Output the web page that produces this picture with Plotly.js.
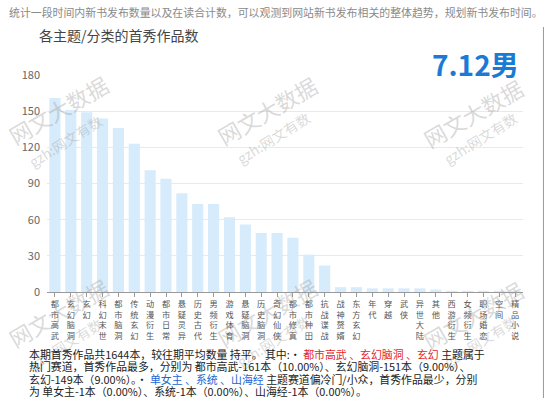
<!DOCTYPE html>
<html>
<head>
<meta charset="utf-8">
<script src="https://cdn.plot.ly/plotly-3.0.1.min.js"></script>
<style>html,body{margin:0;padding:0;background:#fff;}#chart{width:550px;height:398px;}</style>
</head>
<body>
<div id="chart"></div>
<script>
const categories = ["都市高武","玄幻脑洞","玄幻","科幻末世","都市脑洞","传统玄幻","动漫衍生","都市日常","悬疑灵异","历史古代","男频衍生","游戏体育","悬疑脑洞","历史脑洞","奇幻仙侠","都市修真","都市种田","抗战谍战","战神赘婿","东方玄幻","年代","穿越","武侠","异世大陆","其他","西游衍生","女频衍生","职场婚恋","空间","精品小说"];
const counts = [161,151,149,144,136,123,101,94,82,73,73,62,56,49,49,45,31,22,4,4,3,3,3,3,2,1,1,1,1,1];
const yTicks = [0,30,60,90,120,150,180];

const FONT = "Noto Sans CJK SC, Noto Sans, sans-serif";
// pixel helpers for paper coordinates
const L = 46.5, R = 523.5, T = 75, B = 292;
const px = x => (x - L) / (R - L);
const py = y => (B - y) / (B - T);

const tickText = categories.map(c => c.split("").join("<br>"));

const annotations = [];
// caption
annotations.push({xref:"paper", yref:"paper", x:px(7), y:py(12), xanchor:"left", yanchor:"middle",
  text:"统计一段时间内新书发布数量以及在读合计数，可以观测到网站新书发布相关的整体趋势，规划新书发布时间。",
  showarrow:false, borderpad:0, font:{family:FONT, size:10.9, color:"#8a8a8a"}});
// big label
annotations.push({xref:"paper", yref:"paper", x:px(521), y:py(64), xanchor:"right", yanchor:"middle",
  text:"<b>7.12男</b>", showarrow:false, font:{family:FONT, size:28, color:"#1a7bd6"}});
// watermarks
const wmA = [[58,109],[267,110],[473,113],[58,312],[267,312],[473,315]];
const wmB = [[65,141],[273,138],[481,138],[65,344],[273,341],[481,341]];
wmA.forEach(p => annotations.push({xref:"paper", yref:"paper", x:px(p[0]), y:py(p[1]), xanchor:"center", yanchor:"middle",
  text:"网文大数据", textangle:-30, showarrow:false, font:{family:FONT, size:22, color:"rgba(150,150,150,0.36)"}}));
wmB.forEach(p => annotations.push({xref:"paper", yref:"paper", x:px(p[0]), y:py(p[1]), xanchor:"center", yanchor:"middle",
  text:"gzh:网文有数", textangle:-32, showarrow:false, font:{family:FONT, size:14, color:"rgba(150,150,150,0.36)"}}));
// bottom description
const red = s => '<span style="color:#e3262b">' + s + '</span>';
const blue = s => '<span style="color:#2364d2">' + s + '</span>';
const lines = [
  "本期首秀作品共1644本，较往期平均数量 持平。 其中:· " + red("都市高武 、玄幻脑洞 、玄幻") + " 主题属于",
  "热门赛道，首秀作品最多，分别为 都市高武-161本（10.00%）、玄幻脑洞-151本（9.00%）、",
  "玄幻-149本（9.00%）。· " + blue("单女主 、系统 、山海经") + " 主题赛道偏冷门/小众，首秀作品最少，分别",
  "为 单女主-1本（0.00%）、系统-1本（0.00%）、山海经-1本（0.00%）。"
];
const lineY = [354, 366.3, 378.6, 391];
lines.forEach((t, i) => annotations.push({xref:"paper", yref:"paper", x:px(27), y:py(lineY[i]), xanchor:"left", yanchor:"middle",
  text:t, showarrow:false, borderpad:0, font:{family:FONT, size:10.9, color:"#222"}}));

const data = [{
  type:"bar", x:categories, y:counts,
  marker:{color:"#d6ebfb"}, hoverinfo:"x+y"
}];

const layout = {
  width:550, height:398,
  margin:{l:L, r:550-R, t:T, b:398-B, pad:0},
  paper_bgcolor:"#fff", plot_bgcolor:"#fff",
  showlegend:false, bargap:0.3,
  title:{text:"各主题/分类的首秀作品数", x:39/550, xanchor:"left", xref:"container", y:1-36/398, yanchor:"middle", yref:"container",
    font:{family:FONT, size:14, color:"#444"}},
  xaxis:{tickmode:"array", tickvals:categories, ticktext:tickText, tickangle:0,
    tickfont:{family:FONT, size:8.2, color:"#555"},
    showline:true, linecolor:"#999", linewidth:1, ticks:"outside", ticklen:4, tickcolor:"#999",
    showgrid:false, fixedrange:true},
  yaxis:{range:[0,180], tickmode:"array", tickvals:yTicks, showgrid:true, gridcolor:"#e6e9ee", gridwidth:1,
    zeroline:false, showline:false, ticks:"", tickfont:{family:FONT, size:11, color:"#666"}, ticklabelstandoff:6},
  shapes:[{type:"line", xref:"paper", yref:"paper", x0:px(544), x1:px(544), y0:py(27), y1:py(398), line:{color:"#999", width:1}}],
  annotations:annotations
};
Plotly.newPlot("chart", data, layout, {displayModeBar:false, staticPlot:true});
</script>
</body>
</html>
